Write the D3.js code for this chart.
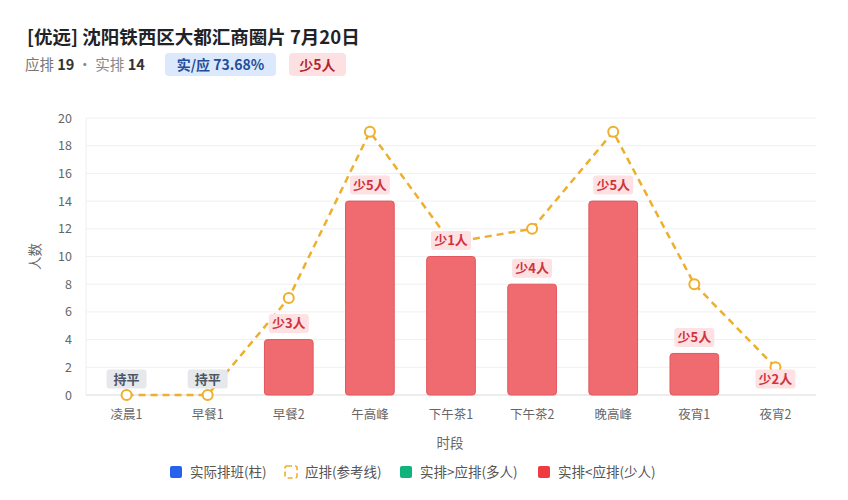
<!DOCTYPE html>
<html>
<head>
<meta charset="utf-8">
<script src="https://cdn.jsdelivr.net/npm/d3@7"></script>
<style>
  body { margin: 0; background: #fff; font-family: "Noto Sans CJK SC", "Noto Sans", sans-serif; }
  svg text { font-family: "Noto Sans CJK SC", "Noto Sans", sans-serif; }
</style>
</head>
<body>
<svg id="chart" width="848" height="500"></svg>
<script>
(function () {
    'use strict';

    var categories = ['凌晨1', '早餐1', '早餐2', '午高峰', '下午茶1', '下午茶2', '晚高峰', '夜宵1', '夜宵2'];
    var actual = [0, 0, 4, 14, 10, 8, 14, 3, 0];
    var planned = [0, 0, 7, 19, 11, 12, 19, 8, 2];
    var yTicks = [0, 2, 4, 6, 8, 10, 12, 14, 16, 18, 20];
    var legendItems = ['实际排班(柱)', '应排(参考线)', '实排>应排(多人)', '实排<应排(少人)'];

    var totalPlanned = 19;
    var totalActual = 14;

    var width = 848, height = 500;
    var margin = { top: 118, right: 32, bottom: 105, left: 86 };

    var svg = d3.select('#chart');

    // header
    svg.append('text')
        .attr('x', 27).attr('y', 44)
        .attr('font-size', 18.5).attr('font-weight', 700).attr('fill', '#1f2328')
        .text('[优远] 沈阳铁西区大都汇商圈片 7月20日');

    var sub = svg.append('text').attr('x', 25).attr('y', 70).attr('font-size', 14.5);
    sub.append('tspan').attr('fill', '#777').text('应排 ');
    sub.append('tspan').attr('fill', '#333').attr('font-weight', 700).text(totalPlanned);
    sub.append('tspan').attr('fill', '#888').text(' · 实排 ');
    sub.append('tspan').attr('fill', '#333').attr('font-weight', 700).text(totalActual);

    var ratio = (totalActual / totalPlanned * 100).toFixed(2);
    svg.append('rect').attr('x', 165).attr('y', 53).attr('width', 111).attr('height', 23)
        .attr('rx', 4).attr('fill', '#dce8fb');
    svg.append('text').attr('x', 220.5).attr('y', 70).attr('text-anchor', 'middle')
        .attr('font-size', 14).attr('font-weight', 700).attr('fill', '#1f4e9c')
        .text('实/应 ' + ratio + '%');
    svg.append('rect').attr('x', 289).attr('y', 53).attr('width', 57).attr('height', 23)
        .attr('rx', 4).attr('fill', '#fde1e2');
    svg.append('text').attr('x', 317.5).attr('y', 70).attr('text-anchor', 'middle')
        .attr('font-size', 14).attr('font-weight', 700).attr('fill', '#b4232c')
        .text('少' + (totalPlanned - totalActual) + '人');

    var x = d3.scaleBand()
        .domain(categories)
        .range([margin.left, width - margin.right])
        .paddingInner(0.4).paddingOuter(0.2);

    var xPoint = function (c) { return x(c) + x.bandwidth() / 2; };

    var y = d3.scaleLinear()
        .domain([0, 20])
        .range([395, margin.top]);

    // grid
    svg.append('g').selectAll('line').data(yTicks).enter().append('line')
        .attr('x1', margin.left).attr('x2', width - margin.right)
        .attr('y1', function (d) { return y(d); }).attr('y2', function (d) { return y(d); })
        .attr('stroke', function (d) { return d === 0 ? '#d9d9d9' : '#f0f0f0'; })
        .attr('stroke-width', 1);

    svg.append('line')
        .attr('x1', margin.left).attr('x2', margin.left)
        .attr('y1', y(20)).attr('y2', y(0))
        .attr('stroke', '#eeeeee');

    // y axis
    var yAxis = svg.append('g')
        .attr('transform', 'translate(' + (margin.left - 14) + ',0)')
        .call(d3.axisLeft(y).tickValues(yTicks).tickSize(0).tickPadding(0));
    yAxis.select('.domain').remove();
    yAxis.selectAll('text').attr('font-size', 12.5).attr('fill', '#666');

    // x axis
    var xAxis = svg.append('g')
        .attr('transform', 'translate(0,' + y(0) + ')')
        .call(d3.axisBottom(x).tickSize(0).tickPadding(15));
    xAxis.select('.domain').remove();
    xAxis.selectAll('text').attr('font-size', 12.5).attr('fill', '#666');

    svg.append('text')
        .attr('transform', 'translate(40,' + y(10) + ') rotate(-90)')
        .attr('text-anchor', 'middle').attr('font-size', 13.5).attr('fill', '#666')
        .text('人数');

    svg.append('text')
        .attr('x', 450).attr('y', 448).attr('text-anchor', 'middle')
        .attr('font-size', 13.5).attr('fill', '#666')
        .text('时段');

    // bars
    svg.append('g').selectAll('rect').data(categories).enter().append('rect')
        .filter(function (c, i) { return actual[i] > 0; })
        .attr('x', function (c) { return x(c); })
        .attr('y', function (c) { return y(actual[categories.indexOf(c)]); })
        .attr('width', x.bandwidth())
        .attr('height', function (c) { return y(0) - y(actual[categories.indexOf(c)]); })
        .attr('rx', 3)
        .attr('fill', '#f06b6f')
        .attr('stroke', '#e2575c')
        .attr('stroke-width', 1);

    // planned line
    var line = d3.line()
        .x(function (d, i) { return xPoint(categories[i]); })
        .y(function (d) { return y(d); });

    svg.append('path')
        .datum(planned)
        .attr('d', line)
        .attr('fill', 'none')
        .attr('stroke', '#eeaf2c')
        .attr('stroke-width', 2.5)
        .attr('stroke-dasharray', '7,5');

    // points
    svg.append('g').selectAll('circle').data(planned).enter().append('circle')
        .attr('cx', function (d, i) { return xPoint(categories[i]); })
        .attr('cy', function (d) { return y(d); })
        .attr('r', 5)
        .attr('fill', '#fff')
        .attr('stroke', '#eeaf2c')
        .attr('stroke-width', 2);

    // labels sit on top of line and points
    var labels = svg.append('g').selectAll('g').data(categories).enter().append('g')
        .attr('transform', function (c, i) {
            return 'translate(' + xPoint(c) + ',' + (y(actual[i]) - 16) + ')';
        });

    labels.append('rect')
        .attr('x', -20).attr('y', -9.5).attr('width', 40).attr('height', 19).attr('rx', 3)
        .attr('fill', function (c, i) { return planned[i] === actual[i] ? '#e6e8ec' : '#fde1e3'; });

    labels.append('text')
        .attr('text-anchor', 'middle').attr('dy', '0.36em')
        .attr('font-size', 13).attr('font-weight', 700)
        .attr('fill', function (c, i) { return planned[i] === actual[i] ? '#4b5563' : '#d2323c'; })
        .text(function (c, i) {
            var diff = planned[i] - actual[i];
            if (diff === 0) return '持平';
            return diff > 0 ? '少' + diff + '人' : '多' + (-diff) + '人';
        });

    // legend
    var legendX = [170, 285, 400, 538];
    var legend = svg.append('g').selectAll('g').data(legendItems).enter().append('g')
        .attr('transform', function (d, i) { return 'translate(' + legendX[i] + ',466)'; });

    legend.append('rect')
        .attr('width', 12).attr('height', 12).attr('rx', 2)
        .attr('fill', function (d, i) { return ['#2563eb', '#fff', '#10b37b', '#ef3b3f'][i]; })
        .attr('stroke', function (d, i) { return i === 1 ? '#eeaf2c' : 'none'; })
        .attr('stroke-width', 1.6)
        .attr('stroke-dasharray', function (d, i) { return i === 1 ? '5,3' : null; });

    legend.append('text')
        .attr('x', 20).attr('y', 6).attr('dy', '0.36em')
        .attr('font-size', 13.5).attr('fill', '#555')
        .text(function (d) { return d; });
})();
</script>
</body>
</html>
